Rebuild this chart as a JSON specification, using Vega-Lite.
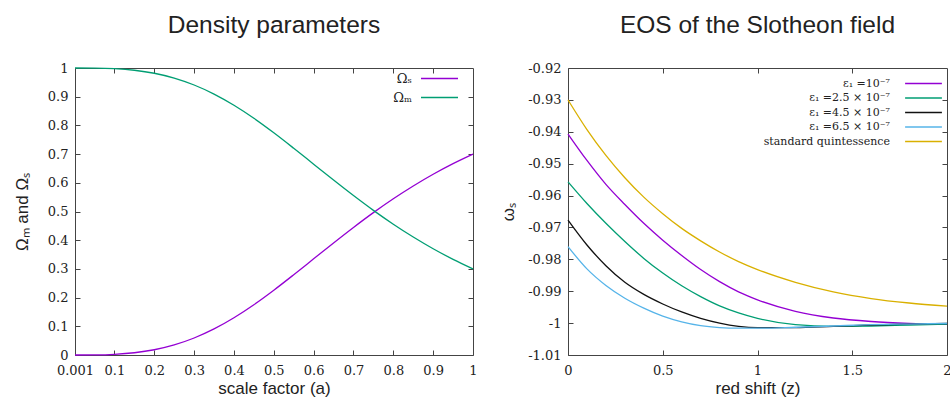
{
  "$schema": "https://vega.github.io/schema/vega-lite/v6.json",
  "background": "white",
  "padding": {"left": 12, "top": 12, "right": 0, "bottom": 0},
  "spacing": 20,
  "resolve": {"scale": {"color": "independent"}, "legend": {"color": "independent"}},
  "config": {
    "view": {"stroke": "#444", "strokeWidth": 1},
    "font": "Liberation Sans",
    "axis": {"domain": false, "grid": false, "tickSize": -5, "tickColor": "#444", "labelFont": "DejaVu Serif", "labelFontSize": 13, "labelColor": "#222", "labelOverlap": false, "labelFlush": false, "titleFont": "Liberation Sans", "titleFontSize": 17, "titleFontWeight": "normal", "titleColor": "#222"},
    "title": {"font": "Liberation Sans", "fontSize": 24.5, "fontWeight": "normal", "color": "#222"}
  },
  "datasets": {
    "density": [
      {"a": 0.001, "series": "Ωₛ", "value": 0},
      {"a": 0.05, "series": "Ωₛ", "value": 0.0003},
      {"a": 0.1, "series": "Ωₛ", "value": 0.0023},
      {"a": 0.15, "series": "Ωₛ", "value": 0.0078},
      {"a": 0.2, "series": "Ωₛ", "value": 0.0183},
      {"a": 0.25, "series": "Ωₛ", "value": 0.0352},
      {"a": 0.3, "series": "Ωₛ", "value": 0.0593},
      {"a": 0.35, "series": "Ωₛ", "value": 0.0909},
      {"a": 0.4, "series": "Ωₛ", "value": 0.1299},
      {"a": 0.45, "series": "Ωₛ", "value": 0.1753},
      {"a": 0.5, "series": "Ωₛ", "value": 0.2258},
      {"a": 0.55, "series": "Ωₛ", "value": 0.2797},
      {"a": 0.6, "series": "Ωₛ", "value": 0.3351},
      {"a": 0.65, "series": "Ωₛ", "value": 0.3905},
      {"a": 0.7, "series": "Ωₛ", "value": 0.4445},
      {"a": 0.75, "series": "Ωₛ", "value": 0.4961},
      {"a": 0.8, "series": "Ωₛ", "value": 0.5444},
      {"a": 0.85, "series": "Ωₛ", "value": 0.589},
      {"a": 0.9, "series": "Ωₛ", "value": 0.6298},
      {"a": 0.95, "series": "Ωₛ", "value": 0.6667},
      {"a": 1, "series": "Ωₛ", "value": 0.7},
      {"a": 0.001, "series": "Ωₘ", "value": 1},
      {"a": 0.05, "series": "Ωₘ", "value": 0.9997},
      {"a": 0.1, "series": "Ωₘ", "value": 0.9977},
      {"a": 0.15, "series": "Ωₘ", "value": 0.9922},
      {"a": 0.2, "series": "Ωₘ", "value": 0.9817},
      {"a": 0.25, "series": "Ωₘ", "value": 0.9648},
      {"a": 0.3, "series": "Ωₘ", "value": 0.9407},
      {"a": 0.35, "series": "Ωₘ", "value": 0.9091},
      {"a": 0.4, "series": "Ωₘ", "value": 0.8701},
      {"a": 0.45, "series": "Ωₘ", "value": 0.8247},
      {"a": 0.5, "series": "Ωₘ", "value": 0.7742},
      {"a": 0.55, "series": "Ωₘ", "value": 0.7203},
      {"a": 0.6, "series": "Ωₘ", "value": 0.6649},
      {"a": 0.65, "series": "Ωₘ", "value": 0.6095},
      {"a": 0.7, "series": "Ωₘ", "value": 0.5555},
      {"a": 0.75, "series": "Ωₘ", "value": 0.5039},
      {"a": 0.8, "series": "Ωₘ", "value": 0.4556},
      {"a": 0.85, "series": "Ωₘ", "value": 0.411},
      {"a": 0.9, "series": "Ωₘ", "value": 0.3702},
      {"a": 0.95, "series": "Ωₘ", "value": 0.3333},
      {"a": 1, "series": "Ωₘ", "value": 0.3}
    ],
    "eos": [
      {"z": 0, "series": "ε₁ =10⁻⁷", "w": -0.9407},
      {"z": 0.1, "series": "ε₁ =10⁻⁷", "w": -0.949},
      {"z": 0.2, "series": "ε₁ =10⁻⁷", "w": -0.9565},
      {"z": 0.3, "series": "ε₁ =10⁻⁷", "w": -0.9628},
      {"z": 0.4, "series": "ε₁ =10⁻⁷", "w": -0.9687},
      {"z": 0.5, "series": "ε₁ =10⁻⁷", "w": -0.974},
      {"z": 0.6, "series": "ε₁ =10⁻⁷", "w": -0.9788},
      {"z": 0.7, "series": "ε₁ =10⁻⁷", "w": -0.9832},
      {"z": 0.8, "series": "ε₁ =10⁻⁷", "w": -0.987},
      {"z": 0.9, "series": "ε₁ =10⁻⁷", "w": -0.9902},
      {"z": 1.0, "series": "ε₁ =10⁻⁷", "w": -0.9927},
      {"z": 1.2, "series": "ε₁ =10⁻⁷", "w": -0.9963},
      {"z": 1.4, "series": "ε₁ =10⁻⁷", "w": -0.9984},
      {"z": 1.6, "series": "ε₁ =10⁻⁷", "w": -0.9995},
      {"z": 1.8, "series": "ε₁ =10⁻⁷", "w": -1.0001},
      {"z": 2.0, "series": "ε₁ =10⁻⁷", "w": -1.0004},
      {"z": 0, "series": "ε₁ =2.5 × 10⁻⁷", "w": -0.9557},
      {"z": 0.1, "series": "ε₁ =2.5 × 10⁻⁷", "w": -0.9625},
      {"z": 0.2, "series": "ε₁ =2.5 × 10⁻⁷", "w": -0.9687},
      {"z": 0.3, "series": "ε₁ =2.5 × 10⁻⁷", "w": -0.9744},
      {"z": 0.4, "series": "ε₁ =2.5 × 10⁻⁷", "w": -0.9797},
      {"z": 0.5, "series": "ε₁ =2.5 × 10⁻⁷", "w": -0.9843},
      {"z": 0.6, "series": "ε₁ =2.5 × 10⁻⁷", "w": -0.9883},
      {"z": 0.7, "series": "ε₁ =2.5 × 10⁻⁷", "w": -0.9917},
      {"z": 0.8, "series": "ε₁ =2.5 × 10⁻⁷", "w": -0.9946},
      {"z": 0.9, "series": "ε₁ =2.5 × 10⁻⁷", "w": -0.9968},
      {"z": 1.0, "series": "ε₁ =2.5 × 10⁻⁷", "w": -0.9985},
      {"z": 1.2, "series": "ε₁ =2.5 × 10⁻⁷", "w": -1.0005},
      {"z": 1.4, "series": "ε₁ =2.5 × 10⁻⁷", "w": -1.001},
      {"z": 1.6, "series": "ε₁ =2.5 × 10⁻⁷", "w": -1.0009},
      {"z": 1.8, "series": "ε₁ =2.5 × 10⁻⁷", "w": -1.0006},
      {"z": 2.0, "series": "ε₁ =2.5 × 10⁻⁷", "w": -1.0003},
      {"z": 0, "series": "ε₁ =4.5 × 10⁻⁷", "w": -0.9677},
      {"z": 0.1, "series": "ε₁ =4.5 × 10⁻⁷", "w": -0.9755},
      {"z": 0.2, "series": "ε₁ =4.5 × 10⁻⁷", "w": -0.982},
      {"z": 0.3, "series": "ε₁ =4.5 × 10⁻⁷", "w": -0.9872},
      {"z": 0.4, "series": "ε₁ =4.5 × 10⁻⁷", "w": -0.991},
      {"z": 0.5, "series": "ε₁ =4.5 × 10⁻⁷", "w": -0.994},
      {"z": 0.6, "series": "ε₁ =4.5 × 10⁻⁷", "w": -0.9965},
      {"z": 0.7, "series": "ε₁ =4.5 × 10⁻⁷", "w": -0.9985},
      {"z": 0.8, "series": "ε₁ =4.5 × 10⁻⁷", "w": -1.0},
      {"z": 0.9, "series": "ε₁ =4.5 × 10⁻⁷", "w": -1.001},
      {"z": 1.0, "series": "ε₁ =4.5 × 10⁻⁷", "w": -1.0014},
      {"z": 1.2, "series": "ε₁ =4.5 × 10⁻⁷", "w": -1.0014},
      {"z": 1.4, "series": "ε₁ =4.5 × 10⁻⁷", "w": -1.001},
      {"z": 1.6, "series": "ε₁ =4.5 × 10⁻⁷", "w": -1.0006},
      {"z": 1.8, "series": "ε₁ =4.5 × 10⁻⁷", "w": -1.0003},
      {"z": 2.0, "series": "ε₁ =4.5 × 10⁻⁷", "w": -1.0001},
      {"z": 0, "series": "ε₁ =6.5 × 10⁻⁷", "w": -0.976},
      {"z": 0.1, "series": "ε₁ =6.5 × 10⁻⁷", "w": -0.983},
      {"z": 0.2, "series": "ε₁ =6.5 × 10⁻⁷", "w": -0.9882},
      {"z": 0.3, "series": "ε₁ =6.5 × 10⁻⁷", "w": -0.9922},
      {"z": 0.4, "series": "ε₁ =6.5 × 10⁻⁷", "w": -0.9953},
      {"z": 0.5, "series": "ε₁ =6.5 × 10⁻⁷", "w": -0.9978},
      {"z": 0.6, "series": "ε₁ =6.5 × 10⁻⁷", "w": -0.9996},
      {"z": 0.7, "series": "ε₁ =6.5 × 10⁻⁷", "w": -1.0008},
      {"z": 0.8, "series": "ε₁ =6.5 × 10⁻⁷", "w": -1.0014},
      {"z": 0.9, "series": "ε₁ =6.5 × 10⁻⁷", "w": -1.0016},
      {"z": 1.0, "series": "ε₁ =6.5 × 10⁻⁷", "w": -1.0016},
      {"z": 1.2, "series": "ε₁ =6.5 × 10⁻⁷", "w": -1.0013},
      {"z": 1.4, "series": "ε₁ =6.5 × 10⁻⁷", "w": -1.0009},
      {"z": 1.6, "series": "ε₁ =6.5 × 10⁻⁷", "w": -1.0005},
      {"z": 1.8, "series": "ε₁ =6.5 × 10⁻⁷", "w": -1.0003},
      {"z": 2.0, "series": "ε₁ =6.5 × 10⁻⁷", "w": -1.0001},
      {"z": 0, "series": "standard quintessence", "w": -0.93},
      {"z": 0.1, "series": "standard quintessence", "w": -0.9393},
      {"z": 0.2, "series": "standard quintessence", "w": -0.9474},
      {"z": 0.3, "series": "standard quintessence", "w": -0.9544},
      {"z": 0.4, "series": "standard quintessence", "w": -0.9605},
      {"z": 0.5, "series": "standard quintessence", "w": -0.9657},
      {"z": 0.6, "series": "standard quintessence", "w": -0.9703},
      {"z": 0.7, "series": "standard quintessence", "w": -0.9742},
      {"z": 0.8, "series": "standard quintessence", "w": -0.9777},
      {"z": 0.9, "series": "standard quintessence", "w": -0.9807},
      {"z": 1.0, "series": "standard quintessence", "w": -0.9832},
      {"z": 1.2, "series": "standard quintessence", "w": -0.9872},
      {"z": 1.4, "series": "standard quintessence", "w": -0.9902},
      {"z": 1.6, "series": "standard quintessence", "w": -0.9923},
      {"z": 1.8, "series": "standard quintessence", "w": -0.9937},
      {"z": 2.0, "series": "standard quintessence", "w": -0.9947}
    ]
  },
  "hconcat": [
    {
      "width": 398,
      "height": 287,
      "title": {"text": "Density parameters", "offset": 24},
      "data": {"name": "density"},
      "resolve": {"axis": {"x": "independent", "y": "independent"}},
      "layer": [
        {
          "mark": {"type": "line", "strokeWidth": 1.3, "interpolate": "monotone"},
          "encoding": {
            "x": {"field": "a", "type": "quantitative", "scale": {"domain": [0.001, 1], "nice": false, "zero": false},
              "axis": {"values": [0.001, 0.1, 0.2, 0.3, 0.4, 0.5, 0.6, 0.7, 0.8, 0.9, 1], "format": "~g", "title": "scale factor (a)", "labelPadding": 14, "titlePadding": 3}},
            "y": {"field": "value", "type": "quantitative", "scale": {"domain": [0, 1], "nice": false},
              "axis": {"values": [0, 0.1, 0.2, 0.3, 0.4, 0.5, 0.6, 0.7, 0.8, 0.9, 1], "format": "~g", "title": "Ωₘ and Ωₛ", "minExtent": 30, "maxExtent": 30, "titlePadding": 14, "labelPadding": 12}},
            "color": {"field": "series", "type": "nominal", "sort": ["Ωₛ", "Ωₘ"],
              "scale": {"domain": ["Ωₛ", "Ωₘ"], "range": ["#9400d3", "#009e73"]},
              "legend": {"title": null, "orient": "none", "legendX": 358, "legendY": 4, "padding": 0, "symbolType": "M-3.7,0H3.7", "symbolSize": 100, "symbolStrokeWidth": 1.5, "labelAlign": "right", "labelOffset": -34, "labelFont": "DejaVu Serif", "labelFontSize": 13, "labelColor": "#222", "rowPadding": 5}}
          }
        },
        {
          "mark": {"type": "line", "opacity": 0},
          "encoding": {
            "x": {"field": "a", "type": "quantitative",
              "axis": {"orient": "top", "values": [0.1, 0.2, 0.3, 0.4, 0.5, 0.6, 0.7, 0.8, 0.9], "labels": false, "title": null, "minExtent": 0, "maxExtent": 0}},
            "y": {"field": "value", "type": "quantitative",
              "axis": {"orient": "right", "values": [0.1, 0.2, 0.3, 0.4, 0.5, 0.6, 0.7, 0.8, 0.9], "labels": false, "title": null, "minExtent": 0, "maxExtent": 0}},
            "detail": {"field": "series"}
          }
        }
      ]
    },
    {
      "width": 379,
      "height": 287,
      "title": {"text": "EOS of the Slotheon field", "offset": 24},
      "data": {"name": "eos"},
      "resolve": {"axis": {"x": "independent", "y": "independent"}},
      "layer": [
        {
          "mark": {"type": "line", "strokeWidth": 1.3, "interpolate": "monotone"},
          "encoding": {
            "x": {"field": "z", "type": "quantitative", "scale": {"domain": [0, 2], "nice": false},
              "axis": {"values": [0, 0.5, 1, 1.5, 2], "labelExpr": "'' + datum.value", "title": "red shift (z)", "labelPadding": 14, "titlePadding": 3}},
            "y": {"field": "w", "type": "quantitative", "scale": {"domain": [-1.01, -0.92], "nice": false, "zero": false},
              "axis": {"values": [-0.92, -0.93, -0.94, -0.95, -0.96, -0.97, -0.98, -0.99, -1, -1.01], "labelExpr": "'' + datum.value", "title": "ωₛ", "minExtent": 36, "maxExtent": 36, "titlePadding": 15, "labelPadding": 12}},
            "color": {"field": "series", "type": "nominal",
              "sort": ["ε₁ =10⁻⁷", "ε₁ =2.5 × 10⁻⁷", "ε₁ =4.5 × 10⁻⁷", "ε₁ =6.5 × 10⁻⁷", "standard quintessence"],
              "scale": {"domain": ["ε₁ =10⁻⁷", "ε₁ =2.5 × 10⁻⁷", "ε₁ =4.5 × 10⁻⁷", "ε₁ =6.5 × 10⁻⁷", "standard quintessence"], "range": ["#9400d3", "#009e73", "#111111", "#56b4e9", "#d9b000"]},
              "legend": {"title": null, "orient": "none", "legendX": 350, "legendY": 10, "padding": 0, "symbolType": "M-4.6,0H4.6", "symbolSize": 64, "symbolStrokeWidth": 1.5, "labelAlign": "right", "labelOffset": -39, "labelFont": "DejaVu Serif", "labelFontSize": 11, "labelColor": "#222", "rowPadding": 2.5}}
          }
        },
        {
          "mark": {"type": "line", "opacity": 0},
          "encoding": {
            "x": {"field": "z", "type": "quantitative",
              "axis": {"orient": "top", "values": [0.5, 1, 1.5], "labels": false, "title": null, "minExtent": 0, "maxExtent": 0}},
            "y": {"field": "w", "type": "quantitative",
              "axis": {"orient": "right", "values": [-0.93, -0.94, -0.95, -0.96, -0.97, -0.98, -0.99, -1], "labels": false, "title": null, "minExtent": 0, "maxExtent": 0}},
            "detail": {"field": "series"}
          }
        }
      ]
    }
  ]
}
